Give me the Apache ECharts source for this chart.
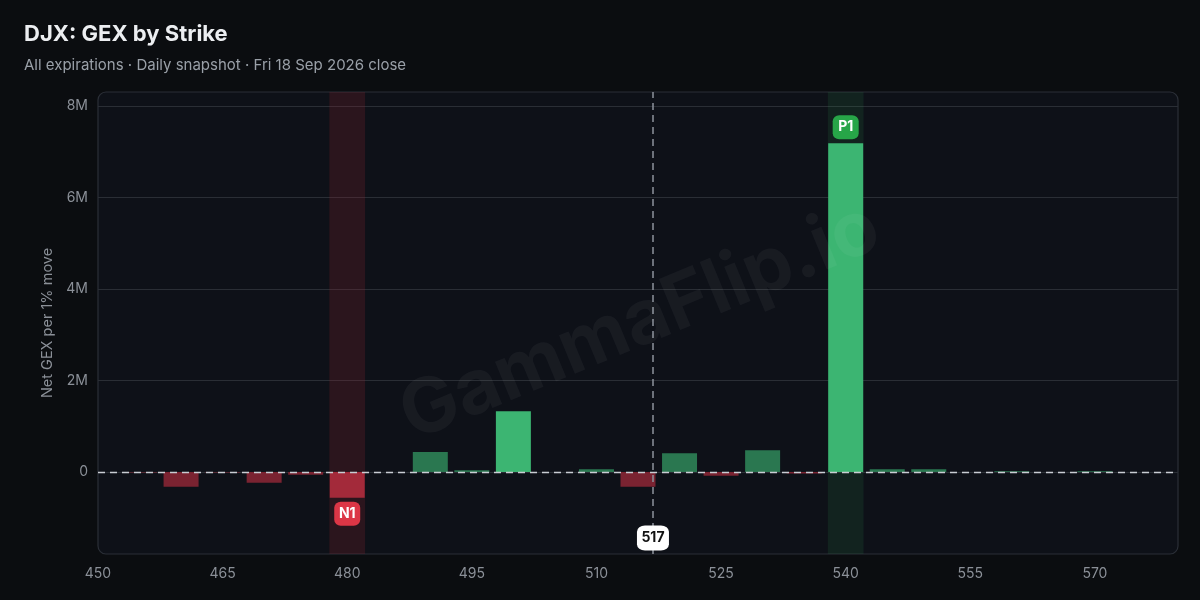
<!DOCTYPE html>
<html>
<head>
<meta charset="utf-8">
<script src="https://cdn.jsdelivr.net/npm/echarts@6/dist/echarts.min.js"></script>
<style>
html,body{margin:0;padding:0;background:#0b0d10;}
#chart{width:1200px;height:600px;}
</style>
</head>
<body>
<div id="chart"></div>
<script>
// ---- data ----
const strikes = [455,460,465,470,475,480,490,495,500,510,515,520,525,530,535,540,545,550,560,570];
const gexM = [-0.01,-0.32,-0.01,-0.23,-0.06,-0.56,0.44,0.04,1.33,0.065,-0.32,0.415,-0.08,0.48,-0.03,7.19,0.065,0.065,0.02,0.02];
const yTicks = [0,2e6,4e6,6e6,8e6];
const xTickInterval = 15;
const spot = 516.8;
const spotLabel = '517';
const n1Strike = 480;
const p1Strike = 540;
const titleText = 'DJX: GEX by Strike';
const subtitleText = 'All expirations · Daily snapshot · Fri 18 Sep 2026 close';
const yAxisName = 'Net GEX per 1% move';
const yMin = -1.79e6, yMax = 8.31e6;
const xMin = 450, xMax = 580;

const gexVals = gexM.map(v => v * 1e6);
const n1Val = gexVals[strikes.indexOf(n1Strike)];
const p1Val = gexVals[strikes.indexOf(p1Strike)];

function barColor(s, v) {
  if (v > 0) return v >= 1e6 ? '#3cb572' : '#2a7750';
  return s === n1Strike ? '#a32a3a' : '#7a2331';
}

const barData = strikes.map((s, i) => ({
  value: [s, gexVals[i]],
  itemStyle: { color: barColor(s, gexVals[i]) }
}));

const halfBand = 2.15;
const chart = echarts.init(document.getElementById('chart'));
const FONT = 'Inter, "Noto Sans", sans-serif';

chart.setOption({
  backgroundColor: '#0b0d10',
  animation: false,
  textStyle: { fontFamily: FONT },
  title: [
    { text: titleText, left: 24, top: 23, padding: 0, textStyle: { color: '#eceef1', fontSize: 22, fontWeight: 'bold', fontFamily: FONT } },
    { text: subtitleText, left: 24, top: 58, padding: 0, textStyle: { color: '#9aa0a8', fontSize: 15, fontWeight: 'normal', fontFamily: FONT } }
  ],
  grid: { left: 98, top: 92, right: 22, bottom: 46, containLabel: false },
  graphic: [
    { type: 'rect', z: -10, silent: true,
      shape: { x: 98, y: 92, width: 1080, height: 462, r: 8 },
      style: { fill: '#0e1118', stroke: '#2b2f37', lineWidth: 1.2 } },
    { type: 'text', z: 100, silent: true, x: 640, y: 322, rotation: 22.5 * Math.PI / 180,
      style: { text: 'GammaFlip.io', fill: 'rgba(255,255,255,0.045)', font: 'bold 76px Inter, sans-serif', align: 'center', verticalAlign: 'middle' } }
  ],
  xAxis: {
    type: 'value', min: xMin, max: xMax, interval: xTickInterval,
    axisLine: { show: false }, axisTick: { show: false }, splitLine: { show: false },
    axisLabel: { color: '#8b9098', fontSize: 14, margin: 13, showMaxLabel: false, fontFamily: FONT }
  },
  yAxis: {
    type: 'value', min: yMin, max: yMax,
    name: yAxisName, nameLocation: 'middle', nameGap: 43,
    nameTextStyle: { color: '#8b9098', fontSize: 14.5, fontFamily: FONT },
    axisLine: { show: false },
    axisTick: { show: false, customValues: yTicks },
    splitLine: { show: true, lineStyle: { color: '#2a2e35', width: 1 } },
    axisLabel: { color: '#8b9098', fontSize: 14, margin: 10, customValues: yTicks, fontFamily: FONT,
      formatter: v => v === 0 ? '0' : (v / 1e6) + 'M' }
  },
  series: [
    {
      type: 'bar', barWidth: 35, data: barData, z: 3,
      markArea: {
        silent: true,
        data: [
          [{ xAxis: n1Strike - halfBand, itemStyle: { color: 'rgba(150,35,50,0.22)' } }, { xAxis: n1Strike + halfBand }],
          [{ xAxis: p1Strike - halfBand, itemStyle: { color: 'rgba(40,150,80,0.14)' } }, { xAxis: p1Strike + halfBand }]
        ]
      },
      markLine: {
        silent: true, symbol: 'none', z: 5,
        data: [
          { yAxis: 0, lineStyle: { color: '#c9cdd3', type: [7, 5], width: 1.4 }, label: { show: false } },
          { xAxis: spot, lineStyle: { color: '#8d939c', type: [7, 5], width: 1.5 }, label: { show: false } }
        ]
      },
      markPoint: {
        silent: true, z: 6,
        data: [
          { coord: [n1Strike, n1Val], symbol: 'roundRect', symbolSize: [26, 24], symbolOffset: [0, 16],
            itemStyle: { color: '#dc3646' },
            label: { show: true, formatter: 'N1', color: '#ffffff', fontWeight: 'bold', fontSize: 14, fontFamily: FONT } },
          { coord: [p1Strike, p1Val], symbol: 'roundRect', symbolSize: [26, 24], symbolOffset: [0, -16],
            itemStyle: { color: '#27a548' },
            label: { show: true, formatter: 'P1', color: '#ffffff', fontWeight: 'bold', fontSize: 14, fontFamily: FONT } },
          { coord: [spot, yMin], symbol: 'roundRect', symbolSize: [32, 25], symbolOffset: [0, -16],
            itemStyle: { color: '#ffffff' },
            label: { show: true, formatter: spotLabel, color: '#111111', fontWeight: 'bold', fontSize: 14, fontFamily: FONT } }
        ]
      }
    }
  ]
});
</script>
</body>
</html>
